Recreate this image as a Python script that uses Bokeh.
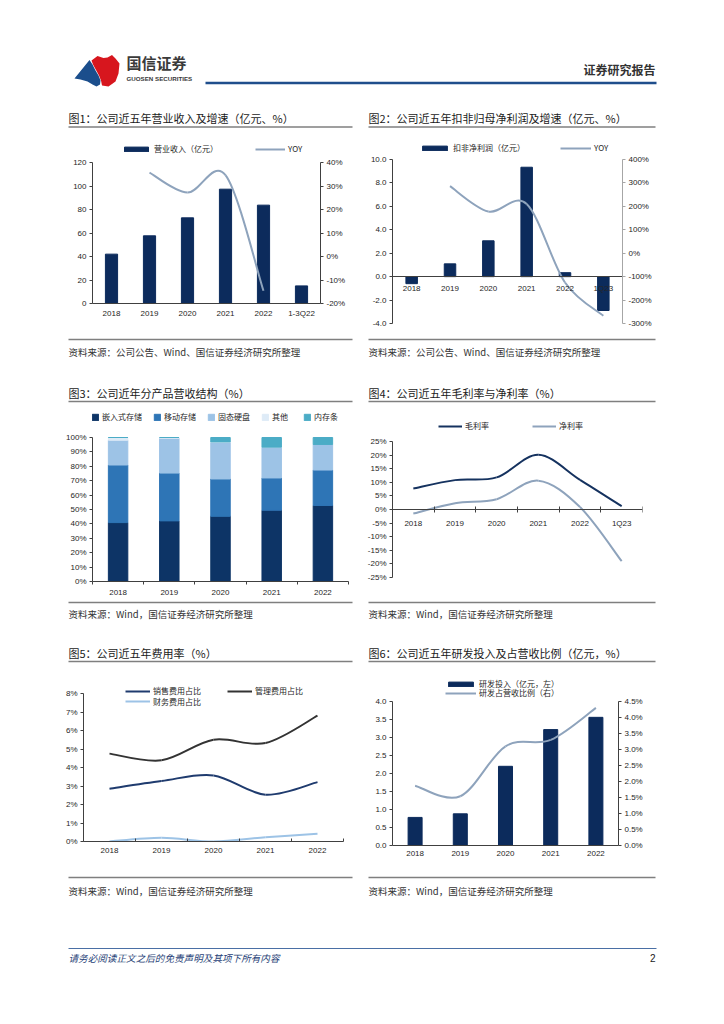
from bokeh.plotting import figure
from bokeh.models import (Range1d, LinearAxis, FixedTicker, PrintfTickFormatter,
                          CustomJSTickFormatter, Legend, LegendItem, ColumnDataSource)
from bokeh.layouts import column, row
from bokeh.embed import file_html
from bokeh.resources import INLINE
from bokeh.core.properties import value

CJK = "Noto Sans CJK SC"
NUM = "Liberation Sans"
NAVY = "#0C2B5C"
GREYBLUE = "#8EA3BC"
AXC = "#404040"
TXT = "#262626"

# ---------------- data ----------------
c1_cats = ["2018", "2019", "2020", "2021", "2022", "1-3Q22"]
c1_revenue = [42.0, 57.6, 72.9, 97.3, 83.7, 15.0]
c1_yoy_cats = ["2019", "2020", "2021", "2022"]
c1_yoy = [35.7, 27.2, 34.6, -14.6]
c1_left_ticks = [0, 20, 40, 60, 80, 100, 120]
c1_right_ticks = [-20, -10, 0, 10, 20, 30, 40]

c2_cats = ["2018", "2019", "2020", "2021", "2022", "1Q23"]
c2_profit = [-0.60, 1.09, 3.06, 9.34, 0.34, -2.89]
c2_yoy_cats = ["2019", "2020", "2021", "2022", "1Q23"]
c2_yoy = [286, 178, 210, -125, -267]
c2_left_ticks = [-4, -2, 0, 2, 4, 6, 8, 10]
c2_right_ticks = [-300, -200, -100, 0, 100, 200, 300, 400]

c3_cats = ["2018", "2019", "2020", "2021", "2022"]
c3_embedded = [40.9, 42.1, 45.3, 49.5, 52.8]
c3_mobile = [40.0, 33.2, 25.9, 22.4, 24.6]
c3_ssd = [17.2, 24.2, 25.5, 21.4, 17.7]
c3_other = [1.9, 0.5, 0.2, 0.0, 0.0]
c3_dram = [0.0, 0.0, 3.1, 6.7, 4.9]
c3_names = ["嵌入式存储", "移动存储", "固态硬盘", "其他", "内存条"]
c3_ticks = [0, 10, 20, 30, 40, 50, 60, 70, 80, 90, 100]

c4_cats = ["2018", "2019", "2020", "2021", "2022", "1Q23"]
c4_gross = [7.7, 10.8, 11.8, 20.1, 10.9, 1.2]
c4_net = [-1.5, 2.3, 3.8, 10.6, 0.9, -19.0]
c4_ticks = [-25, -20, -15, -10, -5, 0, 5, 10, 15, 20, 25]

c5_cats = ["2018", "2019", "2020", "2021", "2022"]
c5_selling = [2.85, 3.27, 3.57, 2.53, 3.21]
c5_admin = [4.75, 4.39, 5.50, 5.32, 6.80]
c5_finance = [0.00, 0.20, 0.00, 0.23, 0.42]
c5_ticks = [0, 1, 2, 3, 4, 5, 6, 7, 8]

c6_cats = ["2018", "2019", "2020", "2021", "2022"]
c6_rd = [0.78, 0.88, 2.20, 3.22, 3.56]
c6_ratio = [1.87, 1.54, 3.10, 3.30, 4.30]
c6_left_ticks = [0, 0.5, 1.0, 1.5, 2.0, 2.5, 3.0, 3.5, 4.0]
c6_right_ticks = [0, 0.5, 1.0, 1.5, 2.0, 2.5, 3.0, 3.5, 4.0, 4.5]


# ---------------- helpers ----------------
def lin(v1, p1, v2, p2, ptop, pbot):
    k = (v1 - v2) / (p2 - p1)
    return (v2 - (pbot - p2) * k, v1 + (p1 - ptop) * k)


def smooth(cats, sub_cats, ys):
    xs = [cats.index(c) for c in sub_cats]
    n = len(xs)
    d = dict(x0=[], y0=[], x1=[], y1=[], cx0=[], cy0=[], cx1=[], cy1=[])
    for i in range(n - 1):
        a = max(i - 1, 0)
        b = i
        c = i + 1
        e = min(i + 2, n - 1)
        d["x0"].append(xs[b]); d["y0"].append(ys[b])
        d["x1"].append(xs[c]); d["y1"].append(ys[c])
        d["cx0"].append(xs[b] + (xs[c] - xs[a]) / 6.0)
        d["cy0"].append(ys[b] + (ys[c] - ys[a]) / 6.0)
        d["cx1"].append(xs[c] - (xs[e] - xs[b]) / 6.0)
        d["cy1"].append(ys[c] - (ys[e] - ys[b]) / 6.0)
    return ColumnDataSource(d)


def draw_curve(p, src, color, width=2, rng="default"):
    return p.bezier(x0="x0", y0="y0", x1="x1", y1="y1", cx0="cx0", cy0="cy0",
                    cx1="cx1", cy1="cy1", source=src, line_color=color,
                    line_width=width, y_range_name=rng)


def chart(width, height, bl, br, bb, n, yr):
    p = figure(width=width, height=height, output_backend="svg", toolbar_location=None,
               x_axis_type=None, y_axis_type=None,
               x_range=Range1d(-0.5, n - 0.5), y_range=Range1d(*yr),
               min_border_left=bl, min_border_right=br, min_border_top=0,
               min_border_bottom=bb)
    p.frame_align = False
    p.outline_line_color = None
    p.background_fill_color = "white"
    return p


def cat_axis(p, cats, standoff, minor_in=0, minor_out=0, fixed=None, line_color=AXC,
             labels=True):
    n = len(cats)
    ax = LinearAxis(
        ticker=FixedTicker(ticks=list(range(n)), minor_ticks=[i - 0.5 for i in range(n + 1)]),
        formatter=CustomJSTickFormatter(
            args=dict(cats=cats if labels else [""] * n),
            code="const i = Math.round(tick); return (i >= 0 && i < cats.length) ? cats[i] : '';"),
        bounds=(-0.5, n - 0.5))
    if fixed is not None:
        ax.fixed_location = fixed
    ax.axis_line_color = line_color
    ax.axis_line_width = 1
    ax.major_tick_line_color = None
    ax.major_tick_out = 0
    ax.major_tick_in = 0
    ax.minor_tick_line_color = line_color
    ax.minor_tick_in = minor_in
    ax.minor_tick_out = minor_out
    ax.major_label_standoff = standoff
    ax.major_label_text_font = NUM
    ax.major_label_text_font_size = "8px" if labels else "0px"
    ax.major_label_text_color = TXT
    p.add_layout(ax, "below")
    return ax


def val_axis(p, side, ticks, fmt, rng="default", line_color=AXC, tick_out=3, standoff=3):
    ax = LinearAxis(y_range_name=rng, ticker=FixedTicker(ticks=ticks, minor_ticks=[]),
                    formatter=PrintfTickFormatter(format=fmt),
                    bounds=(min(ticks), max(ticks)))
    ax.axis_line_color = line_color
    ax.axis_line_width = 1
    ax.major_tick_line_color = line_color
    ax.major_tick_out = tick_out
    ax.major_tick_in = 0
    ax.minor_tick_line_color = None
    ax.major_label_standoff = standoff
    ax.major_label_text_font = NUM
    ax.major_label_text_font_size = "8px"
    ax.major_label_text_color = TXT
    p.add_layout(ax, side)
    return ax


def legend(p, items, fl, fb, left, center, gw, gh, spacing, standoff=3, h=10):
    leg = Legend(items=[LegendItem(label=l, renderers=[r]) for l, r in items],
                 orientation="horizontal", location=(left - fl, fb - (center + h / 2.0)))
    leg.glyph_width = gw
    leg.glyph_height = gh
    leg.label_height = 8
    leg.label_standoff = standoff
    leg.spacing = spacing
    leg.padding = 0
    leg.margin = 0
    leg.border_line_color = None
    leg.background_fill_alpha = 0
    leg.label_text_font = CJK
    leg.label_text_font_size = "8px"
    leg.label_text_color = TXT
    leg.label_text_baseline = "middle"
    p.add_layout(leg)
    return leg


def deco(top, bottom):
    p = figure(width=716, height=bottom - top, output_backend="svg", toolbar_location=None,
               x_axis_type=None, y_axis_type=None,
               x_range=Range1d(0, 716), y_range=Range1d(bottom, top),
               min_border_left=0, min_border_right=0, min_border_top=0, min_border_bottom=0)
    p.frame_align = False
    p.outline_line_color = None
    return p


def txt(p, x, y, s, size, color="#1a1a1a", align="left", font=CJK, style="normal"):
    p.text(x=[x], y=[y], text=[s], text_font=value(font), text_font_size=size,
           text_color=color, text_align=align, text_baseline="middle", text_font_style=style)


def rules(p, y, color="#7F7F7F", width=1.5):
    p.segment(x0=[68, 368], y0=[y, y], x1=[352, 655], y1=[y, y], line_color=color, line_width=width)


# ---------------- header + row-1 titles ----------------
d0 = deco(0, 134)
logo_xs = [[74, 89, 92, 95, 98, 100, 99.5, 96, 92, 87, 80],
           [91, 97, 103, 107, 111.5, 115, 119, 118, 115, 108, 101.5, 100.5, 98.5, 95.5, 92.5]]
logo_ys = [[78, 59.5, 64, 70, 75, 80, 84, 86, 84, 81, 79],
           [60, 55.5, 57.5, 57, 54.5, 58, 63, 73, 81, 86, 85, 80, 75, 69.5, 64]]
d0.patches(xs=logo_xs, ys=logo_ys, fill_color=["#1B4E8C", "#D7161E"], line_color=None)
txt(d0, 126, 62, "国信证券", "15px", "#3a3a3a", style="bold")
txt(d0, 126, 77.5, "GUOSEN SECURITIES", "6.2px", "#3a3a3a", font=NUM, style="bold")
txt(d0, 655, 68.5, "证券研究报告", "12px", "#333333", align="right", style="bold")
d0.segment(x0=[205], y0=[82.5], x1=[656], y1=[82.5], line_color="#1F4E8C", line_width=2.5)
txt(d0, 68, 117, "图1：公司近五年营业收入及增速（亿元、%）", "11px")
txt(d0, 368, 117, "图2：公司近五年扣非归母净利润及增速（亿元、%）", "11px")
rules(d0, 126.5)

# ---------------- chart 1 ----------------
p1 = chart(362, 200, 92, 42, 31, 6, lin(120, 162, 0, 303, 134, 303))
p1.extra_y_ranges = {"r": Range1d(*lin(40, 162, -20, 303, 134, 303))}
b1 = p1.vbar(x=list(range(len(c1_cats))), top=c1_revenue, width=0.32, color=NAVY)
l1 = draw_curve(p1, smooth(c1_cats, c1_yoy_cats, c1_yoy), GREYBLUE, 2, "r")
cat_axis(p1, c1_cats, 5)
val_axis(p1, "left", c1_left_ticks, "%d")
val_axis(p1, "right", c1_right_ticks, "%d%%", rng="r")
legend(p1, [("营业收入（亿元）", b1), ("YOY", l1)], 92, 303, 121, 149, 30, 6, 37)

# ---------------- chart 2 ----------------
p2 = chart(354, 200, 30, 94, 11, 6, lin(10, 159, -4, 323, 134, 323))
p2.extra_y_ranges = {"r": Range1d(*lin(400, 159, -300, 323, 134, 323))}
b2 = p2.vbar(x=list(range(len(c2_cats))), top=c2_profit, bottom=0, width=0.30, color=NAVY)
l2 = draw_curve(p2, smooth(c2_cats, c2_yoy_cats, c2_yoy), GREYBLUE, 2, "r")
cat_axis(p2, c2_cats, 0, fixed=0, labels=False)
p2.text(x=list(range(len(c2_cats))), y=[0] * len(c2_cats), text=c2_cats, y_offset=12,
        text_font=value(NUM), text_font_size="8px", text_color=TXT,
        text_align="center", text_baseline="middle")
val_axis(p2, "left", c2_left_ticks, "%.1f")
val_axis(p2, "right", c2_right_ticks, "%d%%", rng="r", line_color="#A6A6A6")
legend(p2, [("扣非净利润（亿元）", b2), ("YOY", l2)], 392, 323, 419, 148, 31, 6, 35)

# ---------------- row-1 sources + row-2 titles ----------------
d1 = deco(334, 406)
rules(d1, 339)
txt(d1, 68, 351, "资料来源：公司公告、Wind、国信证券经济研究所整理", "9.5px", "#333333")
txt(d1, 368, 351, "资料来源：公司公告、Wind、国信证券经济研究所整理", "9.5px", "#333333")
txt(d1, 68, 392, "图3：公司近年分产品营收结构（%）", "11px")
txt(d1, 368, 392, "图4：公司近五年毛利率与净利率（%）", "11px")
rules(d1, 401)

# ---------------- chart 3 ----------------
p3 = chart(362, 194, 92, 14, 19, 5, lin(100, 437, 0, 581, 406, 581))
src3 = ColumnDataSource(dict(x=list(range(len(c3_cats))), emb=c3_embedded, mob=c3_mobile,
                             ssd=c3_ssd, oth=c3_other, dram=c3_dram))
rs3 = p3.vbar_stack(["emb", "mob", "ssd", "oth", "dram"], x="x", width=0.38, source=src3,
                    color=["#0D3466", "#2E75B6", "#9DC3E6", "#DEEBF7", "#4BACC6"])
cat_axis(p3, c3_cats, 5, minor_out=3)
val_axis(p3, "left", c3_ticks, "%d%%")
legend(p3, list(zip(c3_names, rs3)), 92, 581, 91, 417, 8, 8, 11)

# ---------------- chart 4 ----------------
p4 = chart(354, 194, 30, 74, 23, 6, lin(25, 441, -25, 577, 406, 577))
l4a = draw_curve(p4, smooth(c4_cats, c4_cats, c4_gross), "#15325F", 2)
l4b = draw_curve(p4, smooth(c4_cats, c4_cats, c4_net), GREYBLUE, 2)
cat_axis(p4, c4_cats, 6, minor_in=3, minor_out=3, fixed=0)
val_axis(p4, "left", c4_ticks, "%d%%")
legend(p4, [("毛利率", l4a), ("净利率", l4b)], 392, 577, 438, 426, 24, 6, 43)

# ---------------- row-2 sources + row-3 titles ----------------
d2 = deco(600, 666)
rules(d2, 602)
txt(d2, 68, 613, "资料来源：Wind，国信证券经济研究所整理", "9.5px", "#333333")
txt(d2, 368, 613, "资料来源：Wind，国信证券经济研究所整理", "9.5px", "#333333")
txt(d2, 68, 652, "图5：公司近五年费用率（%）", "11px")
txt(d2, 368, 652, "图6：公司近五年研发投入及占营收比例（亿元，%）", "11px")
rules(d2, 661)

# ---------------- chart 5 ----------------
p5 = chart(362, 204, 83, 19, 29, 5, lin(8, 693, 0, 841, 666, 841))
l5a = draw_curve(p5, smooth(c5_cats, c5_cats, c5_selling), "#1F3B6E", 2)
l5b = draw_curve(p5, smooth(c5_cats, c5_cats, c5_admin), "#333333", 2)
l5c = draw_curve(p5, smooth(c5_cats, c5_cats, c5_finance), "#9DC3E6", 2)
cat_axis(p5, c5_cats, 6, minor_in=3)
val_axis(p5, "left", c5_ticks, "%d%%")
legend(p5, [("销售费用占比", l5a), ("管理费用占比", l5b)], 83, 841, 125, 691, 25, 6, 26)
legend(p5, [("财务费用占比", l5c)], 83, 841, 125, 701.5, 25, 6, 26)

# ---------------- chart 6 ----------------
p6 = chart(354, 204, 30, 98, 25, 5, lin(4, 701, 0, 845, 666, 845))
p6.extra_y_ranges = {"r": Range1d(*lin(4.5, 701, 0, 845, 666, 845))}
b6 = p6.vbar(x=list(range(len(c6_cats))), top=c6_rd, width=0.31, color=NAVY)
l6 = draw_curve(p6, smooth(c6_cats, c6_cats, c6_ratio), GREYBLUE, 2, "r")
cat_axis(p6, c6_cats, 5)
val_axis(p6, "left", c6_left_ticks, "%.1f")
val_axis(p6, "right", c6_right_ticks, "%.1f%%", rng="r")
legend(p6, [("研发投入（亿元，左）", b6)], 392, 845, 445, 684, 31, 6, 10)
legend(p6, [("研发占营收比例（右）", l6)], 392, 845, 445, 693, 31, 6, 10)

# ---------------- row-3 sources + footer ----------------
d3 = deco(870, 1016)
rules(d3, 877)
txt(d3, 68, 890, "资料来源：Wind，国信证券经济研究所整理", "9.5px", "#333333")
txt(d3, 368, 890, "资料来源：Wind，国信证券经济研究所整理", "9.5px", "#333333")
d3.segment(x0=[68], y0=[948], x1=[656], y1=[948], line_color="#4A6FA5", line_width=1)
txt(d3, 68, 957, "请务必阅读正文之后的免责声明及其项下所有内容", "9.6px", "#1F3F77", style="italic")
txt(d3, 655, 957, "2", "10px", "#1a1a1a", align="right", font=NUM)

page = column(d0, row(p1, p2), d1, row(p3, p4), d2, row(p5, p6), d3)
open("out.html", "w").write(file_html(page, INLINE))
